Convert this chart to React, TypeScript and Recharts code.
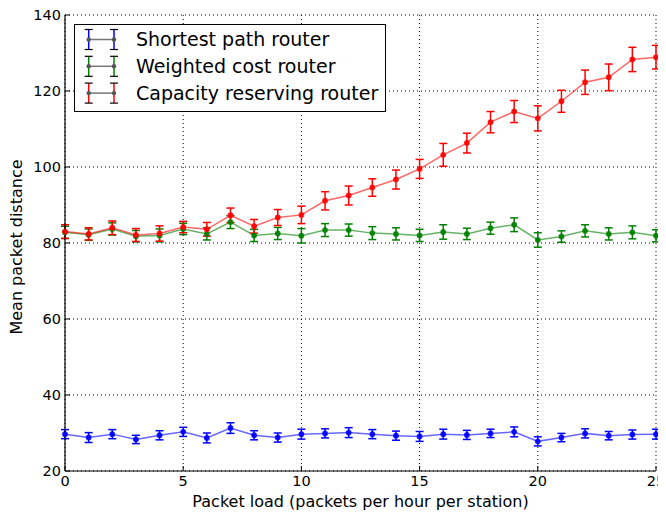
import React from 'react';
import { ComposedChart, Line, XAxis, YAxis, CartesianGrid, ErrorBar, Legend, Label } from 'recharts';

const loads = [0,1,2,3,4,5,6,7,8,9,10,11,12,13,14,15,16,17,18,19,20,21,22,23,24,25];
const shortest = [29.7,28.8,29.7,28.3,29.4,30.3,28.7,31.3,29.4,28.8,29.7,29.9,30.1,29.7,29.3,29.1,29.7,29.5,29.9,30.3,27.8,28.8,29.9,29.3,29.6,29.7];
const shortestErr = [1.2,1.3,1.2,1.1,1.2,1.2,1.3,1.4,1.2,1.2,1.3,1.2,1.3,1.2,1.2,1.3,1.3,1.2,1.1,1.3,1.2,1.1,1.2,1.1,1.2,1.3];
const weighted = [82.8,82.2,83.7,81.8,82.0,83.7,82.4,85.5,82.0,82.5,81.9,83.4,83.4,82.6,82.4,82.0,82.9,82.4,83.9,84.8,80.8,81.7,83.2,82.4,82.8,81.9];
const weightedErr = [1.6,1.5,1.6,1.5,1.7,1.5,1.6,1.7,1.6,1.6,1.9,1.7,1.6,1.7,1.6,1.6,1.9,1.5,1.6,1.8,1.9,1.5,1.6,1.6,1.7,1.6];
const capacity = [83.0,82.4,84.0,82.1,82.5,84.2,83.6,87.3,84.4,86.7,87.4,91.1,92.5,94.6,96.7,99.5,103.2,106.3,111.8,114.6,112.8,117.3,122.3,123.6,128.3,128.9];
const capacityErr = [1.8,1.6,1.8,1.7,2.0,1.5,1.8,1.9,1.8,2.1,2.3,2.4,2.5,2.3,2.5,2.5,3.0,2.6,2.8,2.9,3.3,2.9,3.2,3.5,3.2,3.1];

const xTicks = [0,5,10,15,20,25];
const yTicks = [20,40,60,80,100,120,140];
const seriesNames = ['Shortest path router','Weighted cost router','Capacity reserving router'];
const seriesColors = ['#0000ff','#008000','#ff0000'];

const data = loads.map((x, i) => ({
  x,
  sp: shortest[i], spErr: shortestErr[i],
  wc: weighted[i], wcErr: weightedErr[i],
  cr: capacity[i], crErr: capacityErr[i],
}));

const FONT = '"DejaVu Sans", sans-serif';

const LegendBox = () => (
  <svg width={313} height={89} style={{ display: 'block' }}>
    <rect x={0.5} y={0.5} width={311} height={87} fill="#fff" stroke="#000" strokeWidth={1} />
    {seriesNames.map((name, i) => {
      const cy = 15.5 + i * 26.8;
      const c = seriesColors[i];
      return (
        <g key={name}>
          <line x1={14.7} y1={cy} x2={40} y2={cy} stroke="#777" strokeWidth={1.5} />
          {[14.7, 40].map((bx) => (
            <g key={bx}>
              <line x1={bx} y1={cy - 10} x2={bx} y2={cy + 10} stroke={c} strokeWidth={1.5} />
              <line x1={bx - 4} y1={cy - 10} x2={bx + 4} y2={cy - 10} stroke="#000" strokeWidth={1.2} />
              <line x1={bx - 4} y1={cy + 10} x2={bx + 4} y2={cy + 10} stroke="#000" strokeWidth={1.2} />
              <circle cx={bx} cy={cy} r={2.2} fill="#555" />
            </g>
          ))}
          <text x={62} y={cy + 6.9} fontSize={19} fontFamily={FONT} fill="#000">{name}</text>
        </g>
      );
    })}
  </svg>
);

const tickStyle = { fontSize: 14.5, fill: '#000', fontFamily: FONT };

export default function App() {
  const keys = ['sp', 'wc', 'cr'];
  return (
    <div style={{ fontFamily: FONT }}>
      <ComposedChart width={658} height={507} data={data} margin={{ top: 7, right: 10, left: 0, bottom: 0 }}>
        <CartesianGrid stroke="#000" strokeDasharray="1 3" strokeWidth={1} />
        <XAxis
          dataKey="x" type="number" domain={[0, 25]} ticks={xTicks} height={44}
          tickSize={-5} tickMargin={10} tick={tickStyle}
          axisLine={{ stroke: '#000', strokeWidth: 1.2 }} tickLine={{ stroke: '#000' }}
          allowDecimals={false} interval={0}
        >
          <Label value="Packet load (packets per hour per station)" position="insideBottom" offset={8}
            style={{ fontSize: 16, fill: '#000', fontFamily: FONT }} />
        </XAxis>
        <XAxis
          xAxisId="top" orientation="top" type="number" domain={[0, 25]} ticks={xTicks} height={0}
          tickSize={-5} tick={false} axisLine={{ stroke: '#000', strokeWidth: 1.2 }} tickLine={{ stroke: '#000' }}
        />
        <YAxis
          type="number" domain={[20, 140]} ticks={yTicks} width={57}
          tickSize={-5} tickMargin={9} tick={tickStyle}
          axisLine={{ stroke: '#000', strokeWidth: 1.2 }} tickLine={{ stroke: '#000' }} interval={0}
        >
          <Label value="Mean packet distance" angle={-90} position="insideLeft" offset={8} dy={4}
            style={{ fontSize: 16, fill: '#000', fontFamily: FONT, textAnchor: 'middle' }} />
        </YAxis>
        <YAxis
          yAxisId="right" orientation="right" type="number" domain={[20, 140]} ticks={yTicks} width={0}
          tickSize={-5} tick={false} axisLine={{ stroke: '#000', strokeWidth: 1.2 }} tickLine={{ stroke: '#000' }}
        />
        <Legend layout="horizontal" verticalAlign="middle" align="center"
          wrapperStyle={{ position: 'absolute', left: 66, top: 16, width: 313, height: 89 }}
          content={() => <LegendBox />} />
        {keys.map((k, i) => (
          <Line key={k} dataKey={k} name={seriesNames[i]} type="linear" stroke={seriesColors[i]}
            strokeOpacity={0.6} strokeWidth={1.5} isAnimationActive={false}
            dot={{ r: 2.2, fill: seriesColors[i], stroke: seriesColors[i], strokeOpacity: 0.8, fillOpacity: 0.9 }}
            activeDot={false}>
            <ErrorBar dataKey={k + 'Err'} direction="y" width={4} stroke={seriesColors[i]} strokeWidth={1.5} />
          </Line>
        ))}
      </ComposedChart>
    </div>
  );
}
